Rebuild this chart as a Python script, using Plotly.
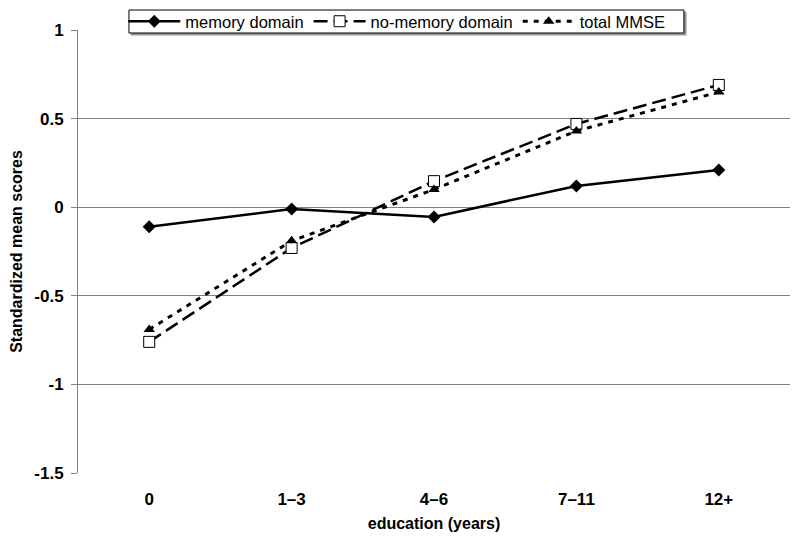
import plotly.graph_objects as go

categories = ["0", "1\u20133", "4\u20136", "7\u201311", "12+"]
memory_domain = [-0.11, -0.01, -0.055, 0.12, 0.21]
no_memory_domain = [-0.76, -0.23, 0.147, 0.47, 0.69]
total_mmse = [-0.69, -0.19, 0.10, 0.43, 0.65]
y_ticks = [1, 0.5, 0, -0.5, -1, -1.5]
y_tick_labels = ["1", "0.5", "0", "-0.5", "-1", "-1.5"]

fig = go.Figure()
fig.add_trace(go.Scatter(
    x=categories, y=memory_domain, name="memory domain", mode="lines+markers",
    line=dict(color="black", width=2.5),
    marker=dict(symbol="diamond", size=10, color="black")))
fig.add_trace(go.Scatter(
    x=categories, y=no_memory_domain, name="no-memory domain", mode="lines+markers",
    line=dict(color="black", width=2.5, dash="14px,6px"),
    marker=dict(symbol="square", size=11, color="white", line=dict(color="black", width=1))))
fig.add_trace(go.Scatter(
    x=categories, y=total_mmse, name="total MMSE", mode="lines+markers",
    line=dict(color="black", width=3, dash="5px,6px"),
    marker=dict(symbol="triangle-up", size=10, color="black")))

# legend frame (with a light drop shadow) drawn behind the legend entries
fig.add_shape(type="rect", xref="paper", yref="paper", layer="above",
              x0=0.0745, x1=0.854, y0=0.9887, y1=1.0406,
              line=dict(color="#9a9a9a", width=1), fillcolor="#9a9a9a")
fig.add_shape(type="rect", xref="paper", yref="paper", layer="above",
              x0=0.0716, x1=0.851, y0=0.9932, y1=1.0451,
              line=dict(color="black", width=1), fillcolor="white")

fig.update_layout(
    width=792, height=538,
    margin=dict(l=70, r=10, t=22, b=73, autoexpand=False),
    paper_bgcolor="white", plot_bgcolor="white",
    font=dict(family="Liberation Sans, Arial, sans-serif", size=16, color="black"),
    showlegend=True,
    legend=dict(orientation="h", x=0.0636, xanchor="left", y=1.0192, yanchor="middle",
                borderwidth=0, bgcolor="rgba(0,0,0,0)",
                font=dict(size=16.5), itemwidth=52, tracegroupgap=0),
    xaxis=dict(type="category", showgrid=False, zeroline=False, showline=False,
               ticks="", tickfont=dict(size=17, weight="bold"), automargin=False,
               ticklabelstandoff=14,
               title=dict(text="<b>education (years)</b>", font=dict(size=16), standoff=9),
               range=[-0.5, 4.5]),
    yaxis=dict(range=[-1.5, 1], tickvals=y_ticks, ticktext=y_tick_labels,
               showgrid=True, gridcolor="#808080", gridwidth=1, automargin=False,
               zeroline=False, showline=True, linecolor="#808080", linewidth=1,
               ticks="outside", ticklen=6, tickcolor="#808080", ticklabelstandoff=4,
               tickfont=dict(size=17, weight="bold"),
               title=dict(text="<b>Standardized mean scores</b>", font=dict(size=16), standoff=8)),
)
fig.write_html("out.html")
